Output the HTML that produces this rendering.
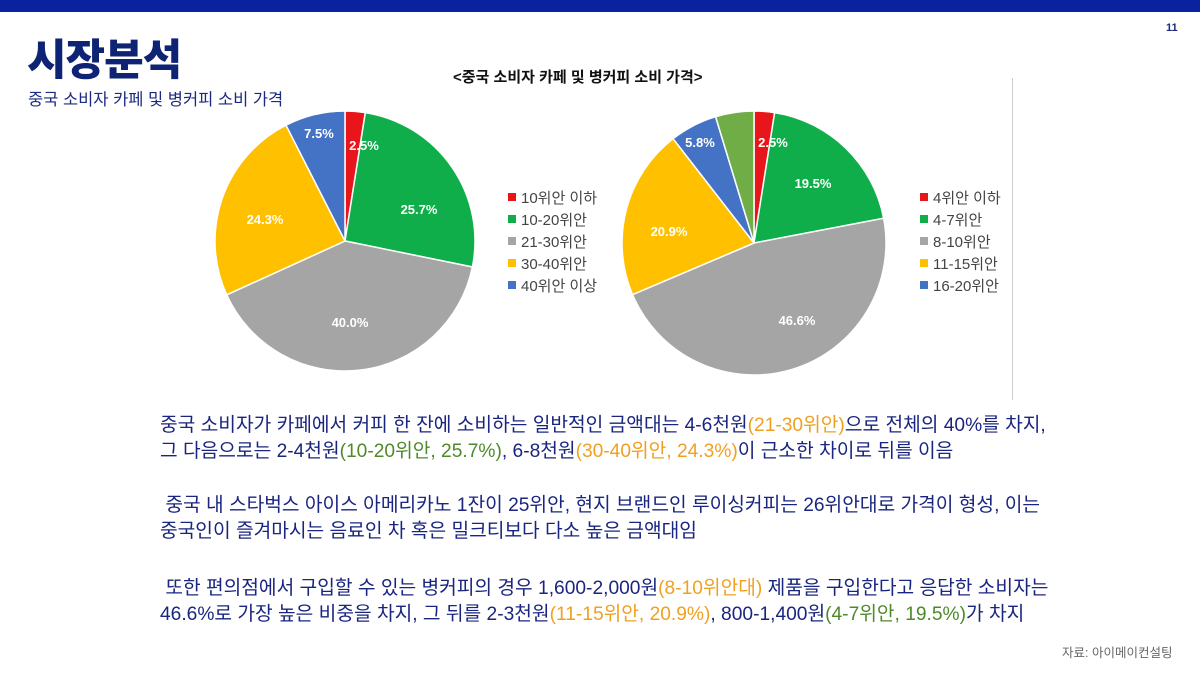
<!DOCTYPE html>
<html><head><meta charset="utf-8"><style>
body{margin:0;width:1200px;height:675px;background:#fff;position:relative;overflow:hidden;font-family:"Liberation Sans","Noto Sans CJK KR",sans-serif}
.bar{position:absolute;left:0;top:0;width:1200px;height:12px;background:#0a22a0}
.t{position:absolute;white-space:nowrap}
.body{position:absolute;left:160px;color:#1a2580;font-size:19.2px;line-height:26px;white-space:nowrap}
.g{color:#4f8a2a}.o{color:#f0a020}
.leg{position:absolute;font-size:15px;color:#444;line-height:22px}
.leg i{display:inline-block;width:8px;height:8px;margin-right:5px;vertical-align:2px}
</style></head><body>
<div class="bar"></div>
<div class="t" style="left:27px;top:26px;font-size:43px;font-weight:900;color:#0e2374;letter-spacing:-1px">시장분석</div>
<div class="t" style="left:28px;top:86px;font-size:16.5px;color:#1a2a80">중국 소비자 카페 및 병커피 소비 가격</div>
<div class="t" style="left:1166px;top:22px;font-size:11px;font-weight:bold;color:#1a2a80">11</div>
<div class="t" style="left:453px;top:66px;font-size:15px;font-weight:bold;color:#111">&lt;중국 소비자 카페 및 병커피 소비 가격&gt;</div>
<div style="position:absolute;left:1012px;top:78px;width:1px;height:322px;background:#ccc"></div>
<svg id="s" width="1200" height="675" style="position:absolute;left:0;top:0"></svg>
<div class="leg" style="left:508px;top:188px">
<div><i style="background:#e8161b"></i>10위안 이하</div>
<div><i style="background:#0fae4b"></i>10-20위안</div>
<div><i style="background:#a5a5a5"></i>21-30위안</div>
<div><i style="background:#ffc000"></i>30-40위안</div>
<div><i style="background:#4472c4"></i>40위안 이상</div></div>
<div class="leg" style="left:920px;top:188px">
<div><i style="background:#e8161b"></i>4위안 이하</div>
<div><i style="background:#0fae4b"></i>4-7위안</div>
<div><i style="background:#a5a5a5"></i>8-10위안</div>
<div><i style="background:#ffc000"></i>11-15위안</div>
<div><i style="background:#4472c4"></i>16-20위안</div></div>
<div class="body" style="top:413px">중국 소비자가 카페에서 커피 한 잔에 소비하는 일반적인 금액대는 4-6천원<span class="o">(21-30위안)</span>으로 전체의 40%를 차지,<br>그 다음으로는 2-4천원<span class="g">(10-20위안, 25.7%)</span>, 6-8천원<span class="o">(30-40위안, 24.3%)</span>이 근소한 차이로 뒤를 이음</div>
<div class="body" style="top:493px">&nbsp;중국 내 스타벅스 아이스 아메리카노 1잔이 25위안, 현지 브랜드인 루이싱커피는 26위안대로 가격이 형성, 이는<br>중국인이 즐겨마시는 음료인 차 혹은 밀크티보다 다소 높은 금액대임</div>
<div class="body" style="top:576px">&nbsp;또한 편의점에서 구입할 수 있는 병커피의 경우 1,600-2,000원<span class="o">(8-10위안대)</span> 제품을 구입한다고 응답한 소비자는<br>46.6%로 가장 높은 비중을 차지, 그 뒤를 2-3천원<span class="o">(11-15위안, 20.9%)</span>, 800-1,400원<span class="g">(4-7위안, 19.5%)</span>가 차지</div>
<div class="t" style="left:1062px;top:642px;font-size:12.5px;color:#666">자료: 아이메이컨설팅</div>
<script>
var s=document.getElementById('s'),h='';
function pie(cx,cy,r,d,c,lab){var a=0;d.forEach(function(v,i){var a1=a+v/100*2*Math.PI;
var x0=cx+r*Math.sin(a),y0=cy-r*Math.cos(a),x1=cx+r*Math.sin(a1),y1=cy-r*Math.cos(a1);
h+='<path d="M'+cx+','+cy+' L'+x0+','+y0+' A'+r+','+r+' 0 '+(v>50?1:0)+' 1 '+x1+','+y1+' Z" fill="'+c[i]+'" stroke="#fff" stroke-width="1.5"/>';a=a1;});
lab.forEach(function(l){h+='<text x="'+l[0]+'" y="'+l[1]+'" fill="#fff" font-size="13" font-weight="bold" text-anchor="middle" font-family="Liberation Sans,sans-serif">'+l[2]+'</text>';});}
var C=['#e8161b','#0fae4b','#a5a5a5','#ffc000','#4472c4','#70ad47'];
pie(345,241,130,[2.5,25.7,40,24.3,7.5],C,[[364,150,'2.5%'],[419,214,'25.7%'],[350,327,'40.0%'],[265,224,'24.3%'],[319,138,'7.5%']]);
pie(754,243,132,[2.5,19.5,46.6,20.9,5.8,4.7],C,[[773,147,'2.5%'],[813,188,'19.5%'],[797,325,'46.6%'],[669,236,'20.9%'],[700,147,'5.8%']]);
s.innerHTML=h;
</script>
</body></html>
